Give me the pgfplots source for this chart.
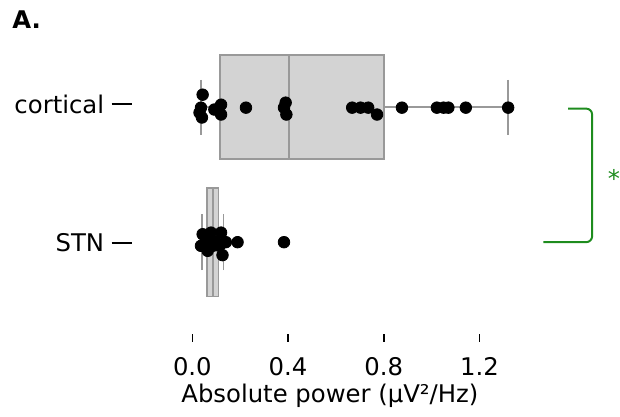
\documentclass[border=0pt]{standalone}
\usepackage{pgfplots}
\pgfplotsset{compat=1.18}
\usepgfplotslibrary{statistics}
\usepackage{fontspec}
\setmainfont{DejaVu Sans}
\definecolor{boxfill}{HTML}{D3D3D3}
\definecolor{boxedge}{HTML}{999999}
\definecolor{sigcol}{RGB}{30,140,30}
\begin{document}
\fontsize{12.2}{14}\selectfont
\begin{tikzpicture}
\begin{axis}[
    scale only axis,
    width=199pt, height=142.5pt,
    xmin=-0.2542, xmax=1.4042,
    ymin=-0.679, ymax=1.4244,
    clip=false,
    axis x line*=bottom, axis y line*=left,
    axis line style={draw=none},
    tick align=outside,
    major tick length=4pt,
    xtick={0,0.4,0.8,1.2},
    xticklabels={0.0,0.4,0.8,1.2},
    x tick style={black, line width=0.75pt},
    xticklabel style={yshift=-3.5pt},
    ytick={-0.007,1.02},
    yticklabels={STN,cortical},
    y tick style={draw=none},
    yticklabel style={xshift=-5.5pt},
    xlabel={Absolute power (µV²/Hz)},
    xlabel style={yshift=4pt},
    /pgf/number format/assume math mode=true,
]
% cortical box
\addplot[boxplot prepared={lower whisker=0.037, lower quartile=0.117,
    median=0.404, upper quartile=0.80, upper whisker=1.32,
    draw position=1, box extend=0.774, whisker extend=0.406},
    boxplot/draw direction=x,
    fill=boxfill, draw=boxedge, line width=0.9pt] coordinates {};
% STN box
\addplot[boxplot prepared={lower whisker=0.04, lower quartile=0.061,
    median=0.085, upper quartile=0.109, upper whisker=0.13,
    draw position=0, box extend=0.805, whisker extend=0.413},
    boxplot/draw direction=x,
    fill=boxfill, draw=boxedge, line width=0.9pt] coordinates {};
% cortical points
\addplot[only marks, mark=*, mark size=2.9pt, black] coordinates {
    (0.043,1.092) (0.036,0.996) (0.030,0.959) (0.040,0.923)
    (0.092,0.982) (0.120,1.018) (0.120,0.945) (0.224,0.996)
    (0.390,1.033) (0.383,0.996) (0.393,0.945)
    (0.668,0.996) (0.703,0.996) (0.735,0.996) (0.772,0.945)
    (0.876,0.996) (1.022,0.996) (1.050,0.996) (1.070,0.996)
    (1.143,0.996) (1.320,0.996)
};
% STN points
\addplot[only marks, mark=*, mark size=2.9pt, black] coordinates {
    (0.043,0.059) (0.078,0.071) (0.120,0.071) (0.036,-0.027)
    (0.064,-0.064) (0.099,0.000) (0.113,-0.027) (0.140,0.000)
    (0.126,-0.096) (0.189,0.000) (0.383,0.000) (0.057,0.010)
    (0.085,-0.027)
};
% y tick marks
\draw[black, line width=1pt] ([xshift=-10pt]axis cs:-0.2542,1.02) -- (axis cs:-0.2542,1.02);
\draw[black, line width=1pt] ([xshift=-10pt]axis cs:-0.2542,-0.007) -- (axis cs:-0.2542,-0.007);
% significance bracket
\draw[sigcol, line width=1pt, rounded corners=3pt]
    (axis cs:1.571,0.989) -- (axis cs:1.671,0.989) -- (axis cs:1.671,0) -- (axis cs:1.467,0);
\node[sigcol, inner sep=0pt, anchor=center] at (axis cs:1.762,0.47) {*};
% panel letter
\node[anchor=base west, inner sep=0pt, font=\bfseries] at (axis cs:-0.754,1.58) {A.};
% page extent
\path (axis cs:-0.804,1.793) rectangle (axis cs:1.779,-1.247);
\end{axis}
\end{tikzpicture}
\end{document}
